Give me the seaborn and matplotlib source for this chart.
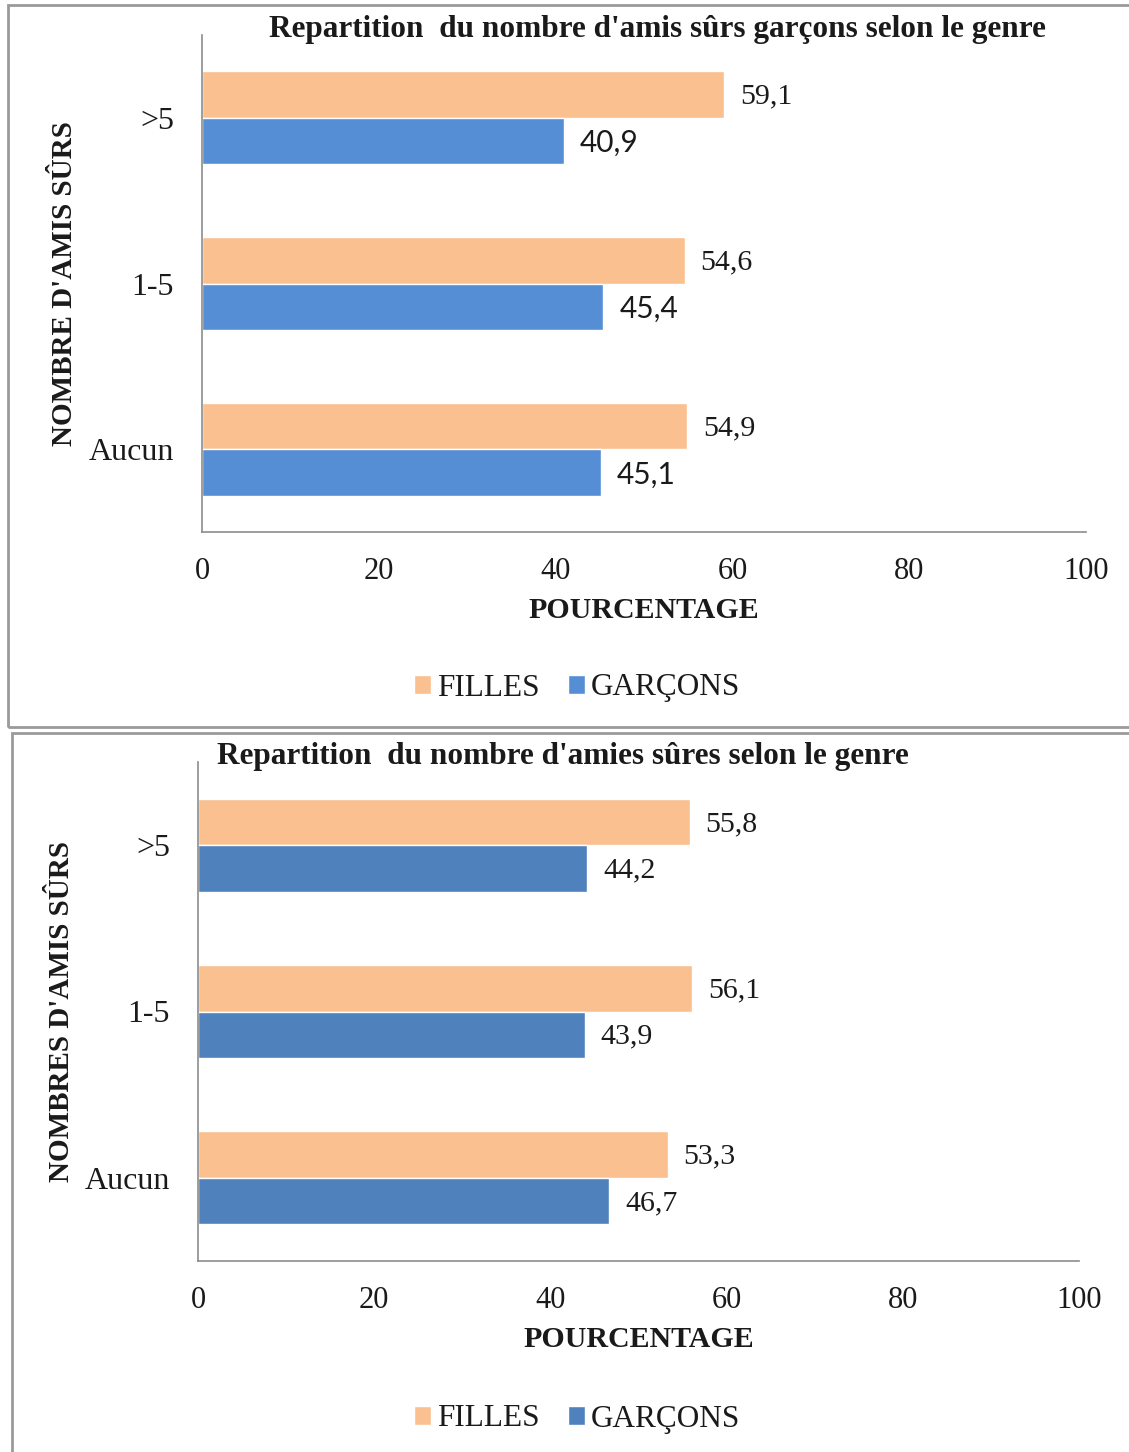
import matplotlib
matplotlib.use("Agg")
import matplotlib.pyplot as plt
import matplotlib.patches as mpatches
import seaborn as sns
import pandas as pd

# Data
categories = [">5", "1-5", "Aucun"]
genres = ["FILLES", "GARÇONS"]
amis_filles = [59.1, 54.6, 54.9]
amis_garcons = [40.9, 45.4, 45.1]
amies_filles = [55.8, 56.1, 53.3]
amies_garcons = [44.2, 43.9, 46.7]
x_ticks = [0, 20, 40, 60, 80, 100]

title_top = "Repartition  du nombre d'amis sûrs garçons selon le genre"
title_bottom = "Repartition  du nombre d'amies sûres selon le genre"
ylabel_top = "NOMBRE D'AMIS SÛRS"
ylabel_bottom = "NOMBRES D'AMIS SÛRS"
xlabel = "POURCENTAGE"

sns.set_theme(style="white")
plt.rcParams["font.family"] = ["Liberation Serif", "DejaVu Serif"]

SERIF = "Liberation Serif"
SANS = "Lato"
ORANGE = "#FAC090"
BLUE_TOP = "#558ED5"
BLUE_BOTTOM = "#4F81BD"
SPINE = "#8C8C8C"
TEXT = "#1a1a1a"

W, H = 1129, 1452
fig = plt.figure(figsize=(W / 100, H / 100), dpi=100)
fig.patch.set_facecolor("white")


def fx(px):
    return px / W


def fy(py):
    return 1 - py / H


def make_df(filles, garcons):
    rows = []
    for c, f, g in zip(categories, filles, garcons):
        rows.append({"cat": c, "genre": genres[0], "val": f})
        rows.append({"cat": c, "genre": genres[1], "val": g})
    return pd.DataFrame(rows)


def panel(rect, df, blue, title, title_xy, ylabel, ylabel_x, legend_xy, sans_blue_labels):
    ax = fig.add_axes(rect)
    sns.barplot(data=df, x="val", y="cat", hue="genre", order=categories,
                hue_order=genres, palette=[ORANGE, blue], orient="h",
                width=0.56, saturation=1, ax=ax, legend=True)
    ax.set_xlim(0, 100)
    ax.set_ylim(2.5, -0.5)
    ax.set_xticks(x_ticks)
    ax.set_xticklabels([str(t) for t in x_ticks], fontsize=22, family=SERIF)
    ax.set_yticks(range(len(categories)))
    ax.set_yticklabels(categories, fontsize=23, family=SERIF)
    ax.set_yticks([-0.5, 0.5, 1.5, 2.5], minor=True)
    ax.tick_params(axis="y", which="major", length=0, pad=20, labelcolor=TEXT)
    ax.tick_params(axis="y", which="minor", length=7, width=1, color=SPINE, direction="out")
    ax.tick_params(axis="x", which="major", length=7, width=1, color=SPINE,
                   direction="out", pad=11, labelcolor=TEXT)
    for s in ["top", "right"]:
        ax.spines[s].set_visible(False)
    for s in ["left", "bottom"]:
        ax.spines[s].set_color(SPINE)
        ax.spines[s].set_linewidth(1.2)
    ax.set_xlabel(xlabel, fontsize=21.5, fontweight="bold", family=SERIF,
                  labelpad=8, color=TEXT)
    ax.set_ylabel("")
    ax.grid(False)

    # value labels at bar ends
    for i, cont in enumerate(ax.containers):
        for bar in cont:
            v = bar.get_width()
            y = bar.get_y() + bar.get_height() / 2
            fam = SANS if (i == 1 and sans_blue_labels) else SERIF
            ax.annotate(f"{v:.1f}".replace(".", ","), (v, y), xytext=(16, -2),
                        textcoords="offset pixels", va="center", ha="left",
                        fontsize=21.5, family=fam, color=TEXT)

    handles, labels = ax.get_legend_handles_labels()
    ax.get_legend().remove()
    fig.legend(handles, labels, loc="center", bbox_to_anchor=legend_xy, ncol=2,
               frameon=False, prop={"family": SERIF, "size": 22.5},
               handlelength=0.55, handleheight=0.55, handletextpad=0.2,
               columnspacing=0.9, labelcolor=TEXT)

    fig.text(title_xy[0], title_xy[1], title, ha="center", va="center",
             fontsize=22.5, fontweight="bold", family=SERIF, color=TEXT)
    fig.text(ylabel_x, rect[1] + rect[3] / 2, ylabel, rotation=90, ha="center",
             va="center", fontsize=21, fontweight="bold", family=SERIF, color=TEXT)
    return ax


# Panel frames
fig.add_artist(mpatches.Rectangle((fx(8), fy(727)), 1.05, fy(5) - fy(727),
                                  transform=fig.transFigure, fill=False,
                                  edgecolor="#9A9A9A", linewidth=2))
fig.add_artist(mpatches.Rectangle((fx(12), -0.05), 1.05, fy(733) + 0.05,
                                  transform=fig.transFigure, fill=False,
                                  edgecolor="#9A9A9A", linewidth=2))

panel([fx(202), fy(532), fx(1086) - fx(202), fy(35) - fy(532)],
      make_df(amis_filles, amis_garcons), BLUE_TOP, title_top,
      (fx(657), fy(30)), ylabel_top, fx(65), (fx(577), fy(688)), True)

panel([fx(198), fy(1261), fx(1079) - fx(198), fy(762) - fy(1261)],
      make_df(amies_filles, amies_garcons), BLUE_BOTTOM, title_bottom,
      (fx(563), fy(756)), ylabel_bottom, fx(62), (fx(577), fy(1419)), False)

fig.savefig("out.png", dpi=100, facecolor="white")
